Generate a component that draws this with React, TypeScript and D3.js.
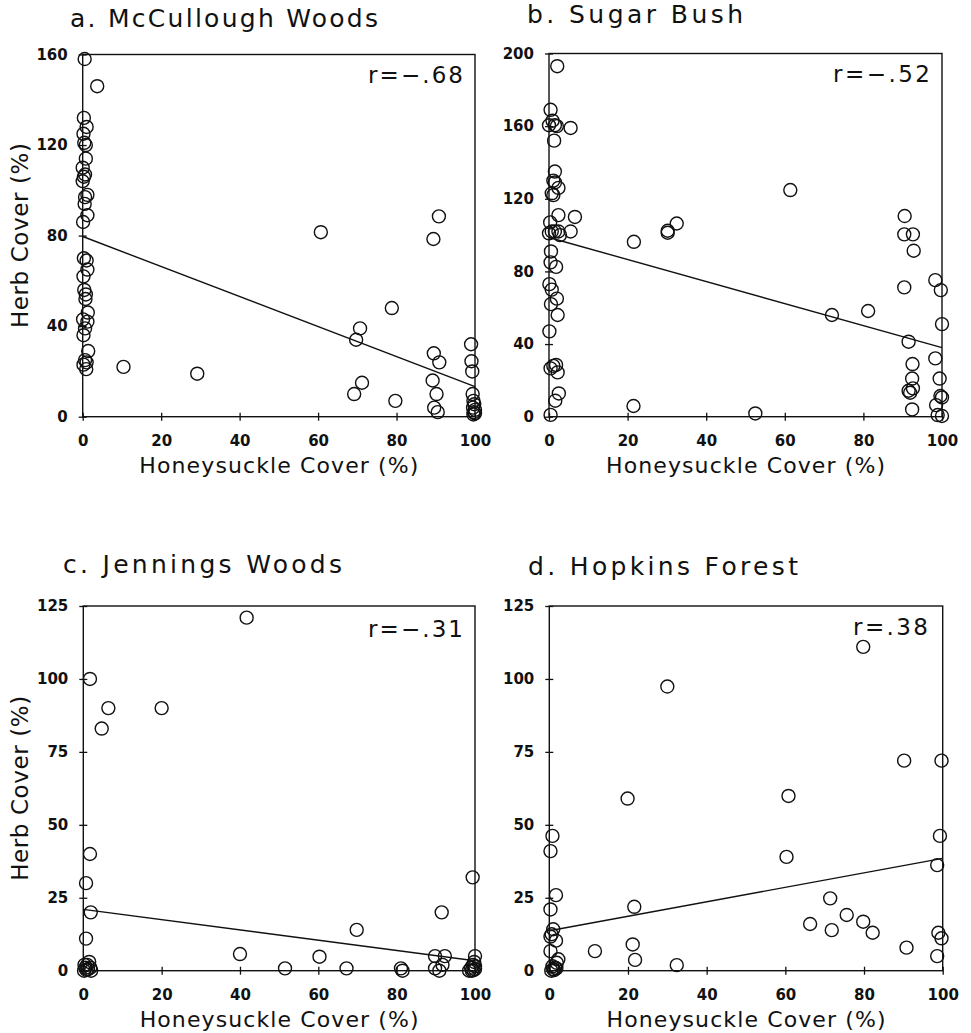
import React, { useRef, useEffect } from "react";
import * as d3 from "d3";

type Pt = [number, number];

// x ticks shared by all four panels
const xTicks = [0, 20, 40, 60, 80, 100];
const yTicks160 = [0, 40, 80, 120, 160];
const yTicks200 = [0, 40, 80, 120, 160, 200];
const yTicks125 = [0, 25, 50, 75, 100, 125];

// a. McCullough Woods (honeysuckle %, herb %)
const mcCulloughPts: Pt[] = [
  [0.5, 158], [3.7, 146], [0.3, 132], [1, 128], [0.2, 125], [0.4, 121], [0.8, 120],
  [0.8, 114], [0, 110], [0.6, 107], [0.3, 106], [0, 104], [1.2, 98], [0.6, 97],
  [0.5, 94], [1.2, 89], [0.1, 86], [0.3, 70], [1, 69], [1.2, 65], [0.2, 62],
  [0.4, 56], [0.8, 54], [0.7, 52], [1.3, 46], [0.1, 43], [1.2, 42], [0.6, 39],
  [0.2, 36], [1.4, 29], [0.6, 25], [1.0, 24], [0.2, 23], [0.9, 21],
  [10.4, 22], [29.2, 19], [60.7, 81.5], [69.7, 34], [70.7, 39], [69.2, 10],
  [71.2, 15], [78.8, 48], [79.7, 7], [89.4, 78.5], [90.8, 88.5], [89.5, 28],
  [90.9, 24], [89.2, 16], [90.2, 10], [89.6, 4], [90.5, 2],
  [99, 32], [99.1, 24.5], [99.3, 20], [99.4, 10], [99.6, 7], [99.8, 5.5],
  [99.5, 4], [100, 3], [99.7, 2], [100, 1.5], [99.6, 1],
];
const mcCulloughFit: Pt[] = [[0, 79.6], [100, 13.3]];

// b. Sugar Bush
const sugarBushPts: Pt[] = [
  [2.1, 193], [0.4, 169], [0, 160.5], [0.9, 163], [1.5, 160.5], [2, 160], [5.5, 159],
  [1.3, 152], [1.5, 135], [1.1, 130], [1.5, 129], [2.4, 126], [0.7, 123], [1.1, 122],
  [2.4, 111], [6.6, 110], [0.3, 107], [5.5, 102], [0, 101], [0.7, 102], [1.5, 102],
  [2.4, 102], [2.8, 100], [0.5, 91], [0.4, 85], [1.8, 82.5], [0.1, 73], [0.7, 70],
  [2, 65], [0.5, 62], [2.2, 56], [0.1, 47], [1.1, 28], [1.8, 28.5], [0.4, 26.6],
  [2.2, 24.4], [2.5, 12.8], [1.6, 8.8], [0.4, 1],
  [21.6, 96.3], [21.5, 5.9], [30.2, 102.4], [30.2, 101.3], [32.5, 106.4], [52.5, 1.8],
  [61.4, 124.8], [72, 56], [81.2, 58.2],
  [90.5, 110.5], [90.4, 100.4], [92.6, 100.4], [92.8, 91.4], [90.4, 71.2], [91.5, 41.3],
  [92.5, 29], [92.4, 21], [91.5, 14.3], [91.9, 13.2], [92.6, 15.6], [92.4, 4],
  [98.3, 75.2], [99.7, 69.7], [100, 51], [98.3, 32.1], [99.4, 21], [99.6, 11.4],
  [100, 10.6], [98.5, 6.4], [98.9, 0.9], [100, 0.4],
];
const sugarBushFit: Pt[] = [[0, 98.7], [100, 38]];

// c. Jennings Woods
const jenningsPts: Pt[] = [
  [41.7, 121], [1.7, 100], [6.4, 90], [20, 90], [4.7, 83], [1.7, 40], [0.7, 30],
  [1.9, 20], [0.7, 11], [40, 5.7], [60.3, 4.8], [51.5, 0.8], [67.2, 0.8], [69.8, 14],
  [81.1, 0.8], [81.5, 0], [91.5, 20], [89.8, 5], [92.3, 5], [89.8, 0.8], [90.9, 0],
  [91.7, 2], [99.4, 32], [100, 5],
  [0.2, 0], [0.5, 1], [1, 2], [1.5, 3], [0.8, 0.3], [1.8, 1], [0.3, 2], [1.2, 0.5], [2, 0],
  [98.5, 0], [99, 1], [99.5, 2], [100, 0.5], [99.8, 3], [99.2, 0], [100, 1.5], [99.6, 0.2],
];
const jenningsFit: Pt[] = [[0, 21], [100, 3.4]];

// d. Hopkins Forest
const hopkinsPts: Pt[] = [
  [79.8, 111], [30, 97.4], [19.9, 59], [60.8, 59.9], [60.3, 39], [90.2, 72], [99.7, 72],
  [99.3, 46.2], [98.6, 36.2], [71.4, 24.8], [66.3, 16], [71.8, 13.9], [75.6, 19.1],
  [79.8, 16.8], [82.2, 13], [90.8, 7.9], [98.9, 13], [99.7, 11.1], [98.6, 5],
  [21.6, 21.9], [21.2, 9], [21.8, 3.7], [11.6, 6.7], [32.4, 1.9],
  [0.8, 46.2], [0.3, 41], [1.7, 25.9], [0.3, 21], [1, 14.2], [0.3, 11.7], [0.6, 12.5],
  [1.7, 10.3], [0.3, 6.7], [2.3, 3.9], [1.9, 2.7],
  [0.5, 0], [1, 0.5], [1.5, 1], [0.8, 1.5], [1.2, 0.2], [1.8, 0.8],
];
const hopkinsFit: Pt[] = [[0, 13.7], [100, 38.5]];

interface PanelSpec {
  title: string;
  titleX: number;
  titleY: number;
  titleLen: number;
  rText: string;
  rX: number;
  rY: number;
  rLen: number;
  left: number;
  right: number;
  top: number;
  bottom: number;
  yMax: number;
  yTicks: number[];
  points: Pt[];
  fit: Pt[];
  yLabel: boolean;
}

const panels: PanelSpec[] = [
  {
    title: "a. McCullough Woods", titleX: 70, titleY: 27, titleLen: 308,
    rText: "r=\u2212.68", rX: 368, rY: 83, rLen: 95,
    left: 82.7, right: 475, top: 54.5, bottom: 416.7,
    yMax: 160, yTicks: yTicks160, points: mcCulloughPts, fit: mcCulloughFit, yLabel: true,
  },
  {
    title: "b. Sugar Bush", titleX: 527, titleY: 23, titleLen: 216,
    rText: "r=\u2212.52", rX: 833, rY: 82, rLen: 97,
    left: 549, right: 942, top: 53.5, bottom: 416.7,
    yMax: 200, yTicks: yTicks200, points: sugarBushPts, fit: sugarBushFit, yLabel: false,
  },
  {
    title: "c. Jennings Woods", titleX: 63, titleY: 573, titleLen: 279,
    rText: "r=\u2212.31", rX: 368, rY: 637, rLen: 95,
    left: 83.3, right: 475, top: 606, bottom: 970.7,
    yMax: 125, yTicks: yTicks125, points: jenningsPts, fit: jenningsFit, yLabel: true,
  },
  {
    title: "d. Hopkins Forest", titleX: 528, titleY: 575, titleLen: 270,
    rText: "r=.38", rX: 853, rY: 635, rLen: 75,
    left: 549.3, right: 942.7, top: 606, bottom: 970.7,
    yMax: 125, yTicks: yTicks125, points: hopkinsPts, fit: hopkinsFit, yLabel: false,
  },
];

const FONT = "'DejaVu Sans', sans-serif";

const App: React.FC = () => {
  const svgRef = useRef<SVGSVGElement | null>(null);

  useEffect(() => {
    const root = d3.select(svgRef.current);
    root.selectAll("*").remove();

    panels.forEach((p) => {
      const g = root.append("g");

      const x = d3.scaleLinear().domain([0, 100]).range([p.left, p.right]);
      const y = d3.scaleLinear().domain([0, p.yMax]).range([p.bottom, p.top]);

      // frame
      g.append("rect")
        .attr("x", p.left)
        .attr("y", p.top)
        .attr("width", p.right - p.left)
        .attr("height", p.bottom - p.top)
        .attr("fill", "none")
        .attr("stroke", "#111")
        .attr("stroke-width", 1.4);

      // y axis, ticks cross the axis line
      const yAxis = g
        .append("g")
        .attr("transform", `translate(${p.left},0)`)
        .call(d3.axisLeft(y).tickValues(p.yTicks).tickSize(4).tickPadding(11));
      yAxis.select(".domain").remove();
      yAxis.selectAll(".tick line").attr("x1", 4).attr("stroke", "#111").attr("stroke-width", 1.3);
      yAxis
        .selectAll("text")
        .attr("font-family", FONT)
        .attr("font-weight", "bold")
        .attr("font-size", 15)
        .attr("fill", "#111");

      const xAxis = g
        .append("g")
        .attr("transform", `translate(0,${p.bottom})`)
        .call(d3.axisBottom(x).tickValues(xTicks).tickSize(4).tickPadding(15));
      xAxis.select(".domain").remove();
      xAxis.selectAll(".tick line").attr("y1", -4).attr("stroke", "#111").attr("stroke-width", 1.3);
      xAxis
        .selectAll("text")
        .attr("font-family", FONT)
        .attr("font-weight", "bold")
        .attr("font-size", 15)
        .attr("fill", "#111");

      // regression line
      const line = d3
        .line<Pt>()
        .x((d) => x(d[0]))
        .y((d) => y(d[1]));
      g.append("path")
        .datum(p.fit)
        .attr("d", line)
        .attr("fill", "none")
        .attr("stroke", "#111")
        .attr("stroke-width", 1.4);

      // points
      g.selectAll("circle.pt")
        .data(p.points)
        .enter()
        .append("circle")
        .attr("class", "pt")
        .attr("cx", (d) => x(d[0]))
        .attr("cy", (d) => y(d[1]))
        .attr("r", 6.5)
        .attr("fill", "none")
        .attr("stroke", "#111")
        .attr("stroke-width", 1.4);

      // title
      g.append("text")
        .attr("x", p.titleX)
        .attr("y", p.titleY)
        .attr("font-family", FONT)
        .attr("font-size", 25)
        .attr("textLength", p.titleLen)
        .attr("lengthAdjust", "spacing")
        .attr("fill", "#111")
        .text(p.title);

      // correlation
      g.append("text")
        .attr("x", p.rX)
        .attr("y", p.rY)
        .attr("font-family", FONT)
        .attr("font-size", 23)
        .attr("textLength", p.rLen)
        .attr("lengthAdjust", "spacing")
        .attr("fill", "#111")
        .text(p.rText);

      // x label
      g.append("text")
        .attr("x", (p.left + p.right) / 2)
        .attr("y", p.bottom + 56)
        .attr("text-anchor", "middle")
        .attr("font-family", FONT)
        .attr("font-size", 22)
        .attr("textLength", 279)
        .attr("lengthAdjust", "spacing")
        .attr("fill", "#111")
        .text("Honeysuckle Cover (%)");

      if (p.yLabel) {
        g.append("text")
          .attr("transform", `translate(28,${(p.top + p.bottom) / 2}) rotate(-90)`)
          .attr("text-anchor", "middle")
          .attr("font-family", FONT)
          .attr("font-size", 23)
          .attr("textLength", 185)
          .attr("lengthAdjust", "spacing")
          .attr("fill", "#111")
          .text("Herb Cover (%)");
      }
    });
  }, []);

  return (
    <svg
      ref={svgRef}
      width={971}
      height={1033}
      style={{ position: "absolute", left: 0, top: 0, background: "#fff" }}
    ></svg>
  );
};

export default App;
